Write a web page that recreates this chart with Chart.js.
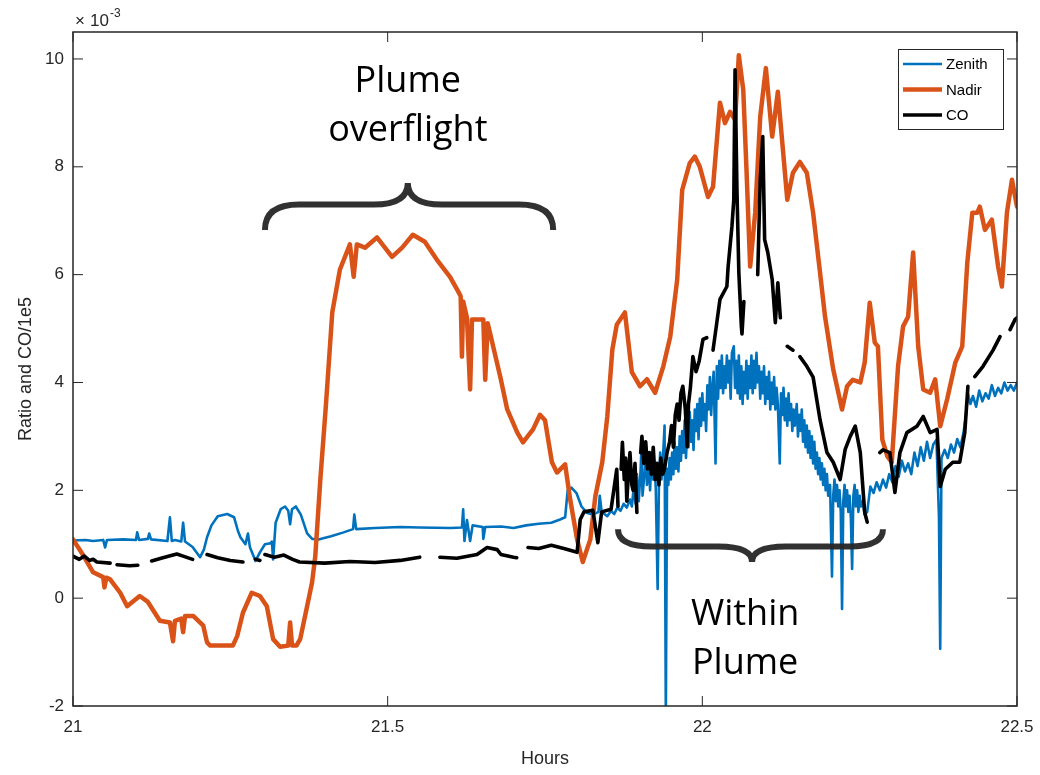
<!DOCTYPE html>
<html>
<head>
<meta charset="utf-8">
<script src="https://cdn.jsdelivr.net/npm/chart.js@4.4.0/dist/chart.umd.min.js"></script>
<style>
  html, body { margin: 0; padding: 0; background: #fff; }
  #wrap { width: 1040px; height: 775px; }
</style>
</head>
<body>
<div id="wrap"><canvas id="chart" width="1040" height="775"></canvas></div>
<script>
// values, [hours, ratio x1e-3]
const zenith = [
  [21.000,1.07],[21.020,1.08],[21.032,1.06],[21.048,1.08],[21.051,0.94],[21.054,1.08],[21.080,1.09],
  [21.100,1.08],[21.102,1.22],[21.105,1.08],[21.119,1.10],[21.121,1.20],[21.124,1.09],[21.150,1.06],
  [21.154,1.50],[21.157,1.06],[21.162,1.08],[21.172,1.05],[21.175,1.40],[21.178,1.05],[21.190,0.95],
  [21.202,0.76],[21.208,0.90],[21.213,1.13],[21.220,1.35],[21.230,1.52],[21.245,1.56],[21.256,1.50],
  [21.262,1.25],[21.266,1.13],[21.274,1.00],[21.278,1.20],[21.281,0.95],[21.290,0.69],[21.297,0.85],
  [21.305,1.00],[21.314,1.02],[21.316,1.05],[21.318,0.72],[21.322,1.40],[21.330,1.65],[21.337,1.70],
  [21.342,1.62],[21.345,1.37],[21.348,1.65],[21.354,1.70],[21.362,1.55],[21.372,1.20],[21.380,1.10],
  [21.390,1.09],[21.410,1.15],[21.430,1.22],[21.445,1.28],[21.447,1.55],[21.450,1.28],[21.480,1.30],
  [21.520,1.32],[21.550,1.31],[21.600,1.30],[21.618,1.31],[21.620,1.65],[21.622,1.06],[21.626,1.45],
  [21.631,1.06],[21.635,1.35],[21.651,1.32],[21.652,1.10],[21.655,1.32],[21.680,1.33],[21.700,1.30],
  [21.720,1.35],[21.740,1.38],[21.760,1.40],[21.774,1.46],[21.782,1.50],[21.786,2.00],[21.792,2.05],
  [21.800,1.95],[21.808,1.70],[21.817,1.58],[21.826,1.55],[21.835,1.60],[21.837,1.90],[21.840,1.60],
  [21.849,1.52],[21.855,1.62],[21.860,1.56],[21.865,1.68],[21.870,1.62],[21.875,1.75],[21.880,1.68],
  [21.885,1.83],[21.888,1.70],[21.891,2.05],[21.894,1.75],[21.896,2.30],[21.899,1.80],[21.902,2.40],
  [21.903,2.70],[21.905,1.90],[21.908,2.30],[21.910,2.90],[21.912,2.10],[21.915,2.50],[21.917,2.00],
  [21.919,2.60],[21.922,2.20],[21.924,2.45],[21.926,2.05],[21.929,0.17],[21.931,2.10],[21.933,2.70],
  [21.935,2.20],[21.937,2.50],[21.940,3.20],[21.942,-2.2],[21.944,2.40],[21.946,2.10],[21.948,2.60],
  [21.950,2.20],[21.952,2.70],[21.954,2.30],[21.956,2.90],[21.958,2.40],[21.960,2.80],[21.962,2.35],
  [21.964,3.00],[21.966,2.55],[21.968,3.10],[21.970,2.70],[21.972,3.30],[21.974,2.60],[21.976,3.10],
  [21.978,2.80],[21.980,3.45],[21.982,2.90],[21.984,3.30],[21.986,2.75],[21.988,3.50],[21.990,3.10],
  [21.992,3.60],[21.994,2.95],[21.996,3.70],[21.998,3.20],[22.000,3.80],[22.002,3.30],[22.004,3.60],
  [22.006,3.10],[22.008,3.95],[22.010,3.50],[22.012,4.10],[22.014,3.40],[22.016,3.90],[22.018,4.20],
  [22.021,2.50],[22.023,4.30],[22.025,3.70],[22.027,4.40],[22.029,3.90],[22.031,4.50],[22.033,3.80],
  [22.035,4.30],[22.037,3.90],[22.039,4.50],[22.041,4.00],[22.043,4.40],[22.045,3.70],[22.047,4.55],
  [22.050,4.67],[22.052,3.90],[22.054,4.40],[22.056,3.80],[22.058,4.50],[22.060,3.70],[22.062,4.30],
  [22.064,3.60],[22.066,4.20],[22.068,3.80],[22.070,4.40],[22.072,3.70],[22.074,4.30],[22.076,3.90],
  [22.078,4.50],[22.080,3.80],[22.082,4.40],[22.084,3.90],[22.086,4.55],[22.088,4.00],[22.090,4.30],
  [22.092,3.70],[22.094,4.20],[22.096,3.80],[22.098,4.30],[22.100,3.60],[22.102,4.10],[22.104,3.70],
  [22.106,4.20],[22.108,3.50],[22.110,4.00],[22.112,3.60],[22.114,4.10],[22.116,3.50],[22.118,3.90],
  [22.120,3.60],[22.123,2.50],[22.125,3.80],[22.127,3.40],[22.129,3.90],[22.131,3.30],[22.133,3.70],
  [22.135,3.20],[22.137,3.80],[22.139,3.30],[22.141,3.60],[22.143,3.10],[22.145,3.50],[22.147,3.20],
  [22.150,3.60],[22.152,3.00],[22.154,3.40],[22.156,3.10],[22.158,3.50],[22.160,2.90],[22.162,3.30],
  [22.164,2.80],[22.166,3.20],[22.168,2.70],[22.170,3.10],[22.172,2.60],[22.174,3.00],[22.176,2.50],
  [22.178,2.90],[22.180,2.40],[22.182,2.70],[22.184,2.30],[22.186,2.60],[22.188,2.20],[22.190,2.50],
  [22.192,2.10],[22.194,2.40],[22.196,2.00],[22.198,2.30],[22.200,1.90],[22.203,2.10],[22.206,0.40],
  [22.208,1.90],[22.210,2.20],[22.212,1.80],[22.214,2.10],[22.216,1.70],[22.218,2.00],[22.220,1.60],
  [22.222,-0.20],[22.224,1.80],[22.226,2.10],[22.228,1.70],[22.230,2.00],[22.232,1.60],[22.234,1.90],
  [22.236,1.50],[22.238,0.54],[22.240,1.90],[22.242,2.10],[22.244,1.70],[22.246,2.00],[22.248,1.60],
  [22.250,1.90],[22.252,1.70],[22.255,1.80],[22.258,1.55],[22.262,1.60],[22.267,2.07],[22.272,1.95],
  [22.277,2.15],[22.282,2.00],[22.287,2.20],[22.292,2.05],[22.297,2.30],[22.302,2.15],[22.307,2.45],
  [22.312,2.25],[22.317,2.55],[22.322,2.35],[22.327,2.50],[22.332,2.30],[22.337,2.70],[22.342,2.45],
  [22.347,2.80],[22.352,2.55],[22.357,2.90],[22.362,2.60],[22.367,2.85],[22.372,2.94],[22.376,1.50],
  [22.378,-0.94],[22.380,2.60],[22.385,2.75],[22.390,2.60],[22.395,2.85],[22.400,2.70],[22.405,2.95],
  [22.410,2.80],[22.415,3.07],[22.419,3.40],[22.422,3.80],[22.426,3.60],[22.430,3.75],[22.435,3.55],
  [22.440,3.85],[22.445,3.65],[22.450,3.80],[22.455,3.70],[22.460,3.95],[22.465,3.75],[22.470,3.90],
  [22.475,3.80],[22.480,4.00],[22.485,3.85],[22.490,3.95],[22.495,3.85],[22.500,4.00]
];

const nadir = [
  [21.000,1.09],[21.016,0.80],[21.032,0.48],[21.048,0.39],[21.050,0.20],[21.053,0.38],[21.059,0.35],
  [21.075,0.10],[21.086,-0.15],[21.106,0.04],[21.119,-0.07],[21.138,-0.42],[21.154,-0.45],[21.159,-0.80],
  [21.162,-0.42],[21.172,-0.38],[21.175,-0.63],[21.178,-0.33],[21.191,-0.33],[21.207,-0.51],[21.213,-0.82],
  [21.218,-0.88],[21.254,-0.88],[21.261,-0.70],[21.270,-0.27],[21.284,0.10],[21.297,0.04],[21.308,-0.15],
  [21.318,-0.76],[21.329,-0.90],[21.342,-0.88],[21.345,-0.45],[21.348,-0.88],[21.355,-0.88],[21.361,-0.76],
  [21.372,-0.15],[21.380,0.30],[21.385,0.78],[21.393,2.20],[21.402,3.60],[21.412,5.30],[21.424,6.09],
  [21.440,6.56],[21.446,5.96],[21.451,6.56],[21.464,6.50],[21.483,6.69],[21.507,6.33],[21.523,6.50],
  [21.540,6.74],[21.559,6.61],[21.578,6.28],[21.599,5.96],[21.612,5.69],[21.616,5.60],[21.618,4.48],
  [21.620,5.50],[21.626,5.20],[21.631,3.87],[21.634,5.17],[21.652,5.17],[21.655,4.05],[21.659,5.10],
  [21.679,4.10],[21.690,3.50],[21.706,3.07],[21.715,2.89],[21.731,3.13],[21.742,3.40],[21.750,3.30],
  [21.761,2.52],[21.769,2.33],[21.782,2.48],[21.790,1.83],[21.801,1.09],[21.810,0.67],[21.822,1.09],
  [21.830,1.89],[21.841,2.52],[21.849,3.37],[21.857,4.61],[21.864,5.07],[21.877,5.30],[21.888,4.19],
  [21.901,3.93],[21.912,4.06],[21.925,3.81],[21.938,4.30],[21.949,4.85],[21.960,5.90],[21.968,7.57],
  [21.980,8.07],[21.988,8.19],[21.996,8.00],[22.009,7.44],[22.017,7.63],[22.028,9.19],[22.036,8.81],
  [22.044,9.02],[22.052,8.87],[22.058,10.07],[22.065,9.43],[22.070,8.00],[22.076,6.15],[22.084,7.15],
  [22.092,8.93],[22.101,9.83],[22.111,8.56],[22.120,9.39],[22.135,7.39],[22.144,7.89],[22.155,8.09],
  [22.166,7.89],[22.176,7.15],[22.187,6.04],[22.195,5.22],[22.208,4.24],[22.222,3.50],[22.230,3.93],
  [22.239,4.05],[22.251,4.00],[22.258,4.37],[22.266,5.48],[22.274,4.74],[22.279,4.67],[22.286,2.94],
  [22.294,2.63],[22.301,2.52],[22.311,4.30],[22.319,5.04],[22.327,5.22],[22.335,6.41],[22.343,4.67],
  [22.351,3.87],[22.362,3.81],[22.370,4.06],[22.378,3.19],[22.389,3.69],[22.402,4.37],[22.413,4.67],
  [22.421,6.22],[22.429,7.15],[22.437,7.15],[22.441,7.26],[22.449,6.83],[22.460,7.02],[22.470,6.15],
  [22.476,5.78],[22.484,7.15],[22.492,7.76],[22.500,7.26]
];

// CO/1e5, null = gap in the record
const co = [
  [21.000,0.78],[21.010,0.72],[21.018,0.78],[21.026,0.70],[21.032,0.72],[21.038,0.67],[21.059,0.65],
  [21.063,null],[21.070,0.62],[21.090,0.60],[21.103,0.61],[21.110,null],[21.125,0.69],[21.140,0.74],
  [21.153,0.78],[21.165,0.82],[21.175,0.78],[21.190,0.72],[21.200,null],[21.213,0.81],[21.230,0.75],
  [21.250,0.70],[21.270,0.67],[21.280,null],[21.290,0.72],[21.297,0.70],[21.301,null],[21.305,0.81],
  [21.320,0.76],[21.335,0.80],[21.349,0.72],[21.360,0.67],[21.400,0.65],[21.440,0.68],[21.480,0.66],
  [21.520,0.70],[21.551,0.76],[21.560,null],[21.583,0.76],[21.610,0.74],[21.642,0.81],[21.658,0.94],
  [21.674,0.90],[21.680,0.81],[21.700,0.76],[21.705,0.75],[21.715,null],[21.723,0.94],[21.740,0.92],
  [21.760,0.98],[21.780,0.92],[21.801,0.85],[21.806,1.46],[21.812,1.60],[21.826,1.63],[21.834,1.03],
  [21.840,1.60],[21.855,1.65],[21.864,2.39],[21.866,1.70],[21.868,null],[21.871,2.39],[21.873,2.89],
  [21.876,2.20],[21.878,2.60],[21.880,1.80],[21.883,2.40],[21.885,2.70],[21.888,2.10],[21.890,2.00],
  [21.893,2.50],[21.896,1.59],[21.898,null],[21.902,2.70],[21.904,3.00],[21.907,2.50],[21.910,2.90],
  [21.913,2.40],[21.916,2.70],[21.919,2.30],[21.922,2.80],[21.925,2.20],[21.928,2.50],[21.931,2.10],
  [21.934,2.60],[21.937,2.30],[21.940,2.40],[21.944,2.70],[21.948,2.90],[21.951,3.20],[21.954,2.80],
  [21.957,3.40],[21.960,3.60],[21.963,3.30],[21.966,3.80],[21.969,3.93],[21.973,3.50],[21.976,2.81],
  [21.978,3.60],[21.981,3.90],[21.985,4.48],[21.990,4.20],[21.995,4.40],[22.001,4.80],[22.007,4.83],
  [22.012,null],[22.017,4.60],[22.023,5.11],[22.028,5.54],[22.039,5.78],[22.041,6.15],[22.047,6.89],
  [22.050,7.39],[22.052,9.80],[22.055,7.57],[22.058,6.04],[22.062,5.04],[22.063,4.90],[22.066,5.50],
  [22.070,null],[22.088,6.00],[22.092,7.76],[22.096,8.56],[22.099,6.65],[22.104,6.41],[22.111,5.91],
  [22.116,5.11],[22.120,5.85],[22.124,5.20],[22.128,null],[22.135,4.67],[22.144,4.60],[22.150,null],
  [22.155,4.48],[22.166,4.30],[22.176,4.10],[22.187,3.31],[22.198,2.70],[22.208,2.52],[22.219,2.20],
  [22.227,2.76],[22.235,3.00],[22.243,3.19],[22.251,2.70],[22.258,1.59],[22.262,1.41],[22.270,null],
  [22.282,2.70],[22.287,2.75],[22.298,2.70],[22.306,1.96],[22.314,2.70],[22.325,3.07],[22.341,3.19],
  [22.351,3.37],[22.362,3.07],[22.373,3.13],[22.378,2.07],[22.386,2.39],[22.398,2.52],[22.409,2.52],
  [22.417,3.07],[22.422,3.93],[22.426,null],[22.433,4.11],[22.446,4.30],[22.462,4.60],[22.473,4.85],
  [22.478,null],[22.489,4.98],[22.497,5.17],[22.500,5.20]
];

const xTicks = [21, 21.5, 22, 22.5];
const yTicks = [-2, 0, 2, 4, 6, 8, 10];

// annotation braces: [startHour, endHour, tipHour, endValue, lineValue, tipValue]
const braceOverflight = [21.305, 21.763, 21.532, 6.83, 7.30, 7.70];
const braceWithin = [21.866, 22.287, 22.079, 1.28, 0.96, 0.67];
const labelOverflight = { x: 21.532, y: [9.58, 8.66], text: ['Plume', 'overflight'] };
const labelWithin = { x: 22.068, y: [-0.30, -1.22], text: ['Within', 'Plume'] };

const axisColor = '#262626';
const tickFont = { family: 'Liberation Sans, Arial, sans-serif', size: 17 };

function toXY(arr) { return arr.map(p => ({ x: p[0], y: p[1] })); }

const framePlugin = {
  id: 'frame',
  afterDatasetsDraw(chart) {
    const { ctx, chartArea: a, scales } = chart;
    ctx.save();
    ctx.strokeStyle = axisColor;
    ctx.lineWidth = 1.5;
    ctx.strokeRect(a.left, a.top, a.right - a.left, a.bottom - a.top);
    ctx.lineWidth = 1;
    ctx.beginPath();
    xTicks.forEach(v => {
      const px = scales.x.getPixelForValue(v);
      ctx.moveTo(px, a.bottom); ctx.lineTo(px, a.bottom - 10);
      ctx.moveTo(px, a.top); ctx.lineTo(px, a.top + 10);
    });
    yTicks.forEach(v => {
      const py = scales.y.getPixelForValue(v);
      ctx.moveTo(a.left, py); ctx.lineTo(a.left + 10, py);
      ctx.moveTo(a.right, py); ctx.lineTo(a.right - 10, py);
    });
    ctx.stroke();

    // exponent label
    ctx.fillStyle = axisColor;
    ctx.textBaseline = 'alphabetic';
    ctx.textAlign = 'left';
    ctx.font = '17px Liberation Sans, Arial, sans-serif';
    ctx.fillText('\u00d7', a.left + 2, a.top - 6);
    ctx.fillText('10', a.left + 17, a.top - 6);
    ctx.font = '12px Liberation Sans, Arial, sans-serif';
    ctx.fillText('-3', a.left + 37, a.top - 15);

    // braces
    ctx.strokeStyle = 'rgba(38,38,38,0.95)';
    ctx.lineWidth = 6;
    ctx.lineCap = 'butt';
    [braceOverflight, braceWithin].forEach(b => {
      const x0 = scales.x.getPixelForValue(b[0]);
      const x1 = scales.x.getPixelForValue(b[1]);
      const xm = scales.x.getPixelForValue(b[2]);
      const ye = scales.y.getPixelForValue(b[3]);
      const yl = scales.y.getPixelForValue(b[4]);
      const yt = scales.y.getPixelForValue(b[5]);
      const r = 34;
      ctx.beginPath();
      ctx.moveTo(x0, ye);
      ctx.quadraticCurveTo(x0, yl, x0 + r, yl);
      ctx.lineTo(xm - r, yl);
      ctx.quadraticCurveTo(xm, yl, xm, yt);
      ctx.quadraticCurveTo(xm, yl, xm + r, yl);
      ctx.lineTo(x1 - r, yl);
      ctx.quadraticCurveTo(x1, yl, x1, ye);
      ctx.stroke();
    });

    ctx.fillStyle = '#000';
    ctx.textAlign = 'center';
    ctx.textBaseline = 'middle';
    ctx.font = '36px "Open Sans", sans-serif';
    [labelOverflight, labelWithin].forEach(l => {
      l.text.forEach((t, i) => {
        ctx.fillText(t, scales.x.getPixelForValue(l.x), scales.y.getPixelForValue(l.y[i]));
      });
    });

    // legend box
    const lx = a.right - 119, ly = a.top + 17, lw = 105, lh = 80;
    ctx.fillStyle = '#fff';
    ctx.fillRect(lx, ly, lw, lh);
    ctx.strokeStyle = axisColor;
    ctx.lineWidth = 1;
    ctx.strokeRect(lx + 0.5, ly + 0.5, lw, lh);
    ctx.font = '15px Liberation Sans, Arial, sans-serif';
    ctx.textAlign = 'left';
    chart.data.datasets.forEach((ds, i) => {
      const yy = ly + 15 + i * 25.5;
      ctx.strokeStyle = ds.borderColor;
      ctx.lineWidth = ds.borderWidth;
      ctx.beginPath();
      ctx.moveTo(lx + 5, yy); ctx.lineTo(lx + 44, yy);
      ctx.stroke();
      ctx.fillStyle = '#000';
      ctx.fillText(ds.label, lx + 48, yy + 1);
    });
    ctx.restore();
  }
};

new Chart(document.getElementById('chart'), {
  type: 'line',
  data: {
    datasets: [
      { label: 'Zenith', data: toXY(zenith), borderColor: '#0072BD', borderWidth: 2.6, order: 3 },
      { label: 'Nadir', data: toXY(nadir), borderColor: '#D95319', borderWidth: 4.5, order: 2 },
      { label: 'CO', data: toXY(co), borderColor: '#000000', borderWidth: 3.6, order: 1 }
    ]
  },
  options: {
    responsive: false,
    animation: false,
    spanGaps: false,
    elements: { point: { radius: 0 }, line: { tension: 0, borderJoinStyle: 'round', borderCapStyle: 'round' } },
    layout: { padding: { top: 32, right: 23, left: 0, bottom: 0 } },
    plugins: { legend: { display: false }, tooltip: { enabled: false } },
    scales: {
      x: {
        type: 'linear', min: 21, max: 22.5,
        afterBuildTicks: s => { s.ticks = xTicks.map(v => ({ value: v })); },
        afterFit: s => { s.height = 69; s.paddingLeft = 0; s.paddingRight = 0; },
        ticks: { font: tickFont, color: axisColor, padding: 11, maxRotation: 0, callback: v => String(v) },
        grid: { display: false, drawTicks: false },
        border: { display: false },
        title: { display: true, text: 'Hours', color: axisColor, font: { family: 'Liberation Sans, Arial, sans-serif', size: 18 }, padding: { bottom: 5 } }
      },
      y: {
        type: 'linear', min: -2, max: 10.5,
        afterBuildTicks: s => { s.ticks = yTicks.map(v => ({ value: v })); },
        afterFit: s => { s.width = 73; s.paddingTop = 0; s.paddingBottom = 0; },
        ticks: { font: tickFont, color: axisColor, padding: 9, callback: v => String(v) },
        grid: { display: false, drawTicks: false },
        border: { display: false },
        title: { display: true, text: 'Ratio and CO/1e5', color: axisColor, font: { family: 'Liberation Sans, Arial, sans-serif', size: 18 }, padding: { top: 15 } }
      }
    }
  },
  plugins: [framePlugin]
});
</script>
</body>
</html>
